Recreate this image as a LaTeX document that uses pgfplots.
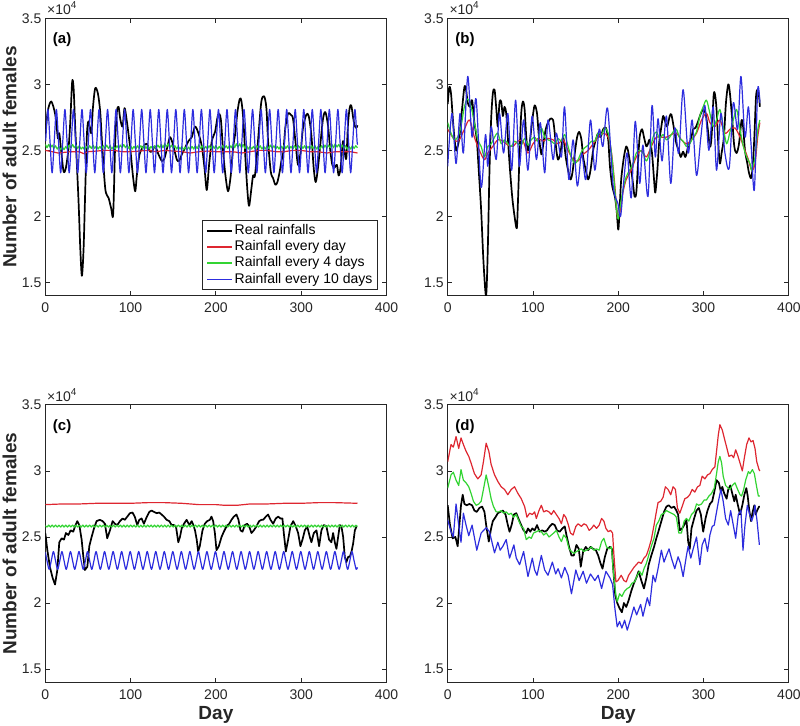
\documentclass[border=0pt]{standalone}
\usepackage{pgfplots}
\pgfplotsset{compat=1.18}
\usepackage{fontspec}
\setmainfont{Liberation Sans}
\definecolor{axgray}{RGB}{38,38,38}
\definecolor{mred}{RGB}{222,38,48}
\definecolor{mgreen}{RGB}{50,212,50}
\definecolor{mblue}{RGB}{45,45,222}
\tikzset{
  serblk/.style={draw=black, line width=0.85pt},
  serred/.style={draw=mred, line width=0.6pt},
  sergrn/.style={draw=mgreen, line width=0.6pt},
  serblu/.style={draw=mblue, line width=0.6pt},
}
\pgfplotsset{
  panel/.style={
    width=170.6pt, height=138.7pt, scale only axis, anchor=south west,
    xmin=0, xmax=400, ymin=1.4, ymax=3.5,
    xtick={0,100,200,300,400}, ytick={1.5,2,2.5,3,3.5},
    tick align=inside, major tick length=2.2pt,
    axis line style={axgray, line width=0.4pt},
    tick style={axgray, line width=0.4pt},
    tick label style={font=\fontsize{7}{8}\selectfont, text=axgray},
    yticklabel style={inner xsep=1.8pt},
    /pgf/number format/assume math mode=true,
    every axis plot/.append style={line join=round},
  },
}
\newcommand{\plab}[1]{\node[anchor=west, inner sep=0, font=\bfseries\fontsize{7.5}{9}\selectfont, text=black] at (axis cs:8.5,3.335) {#1};}
\begin{document}
\begin{tikzpicture}
\path[use as bounding box] (0,0) rectangle (400pt,363pt);

% ---------------- (a)
\begin{axis}[panel, at={(22.65pt,215.15pt)},
  cycle list={{black,line width=0.85pt},{mred,line width=0.6pt},{mgreen,line width=0.6pt},{mblue,line width=0.6pt}},
  legend image code/.code={\draw[#1, line width=0.9pt] (0pt,0pt) -- (12.5pt,0pt);},
  legend style={at={(1,0)}, anchor=south east, xshift=-4.35pt, yshift=2.85pt, draw=axgray, line width=0.4pt,
    font=\fontsize{7}{8}\selectfont, inner xsep=1.7pt, inner ysep=1pt, row sep=0pt,
    nodes={inner sep=0.8pt, text height=5.1pt, text depth=1.4pt}, cells={anchor=west}}]
\addplot+[smooth, no markers] coordinates {(0,2.62)(3,2.80)(7,2.87)(11.7,2.77)(14.8,2.59)(16.4,2.63)(18.7,2.49)(21.5,2.34)(24.2,2.37)(27.3,2.52)(29.3,2.72)(31.5,3.02)(33.2,2.97)(35.1,2.67)(39,2.11)(41,1.76)(42.9,1.55)(44.9,1.76)(46.8,2.19)(48.8,2.62)(50.7,2.72)(53.9,2.63)(55.8,2.82)(58.5,2.97)(61.7,2.93)(64.4,2.79)(66.4,2.57)(70.3,2.21)(74.2,2.14)(77.3,2.06)(79.6,2.02)(82,2.57)(83.9,2.79)(85.9,2.83)(87.8,2.74)(90.6,2.68)(92.9,2.82)(95.6,2.72)(99.5,2.52)(102.7,2.31)(105.4,2.19)(107.3,2.31)(110.5,2.47)(115.1,2.53)(119,2.55)(123,2.49)(125.7,2.50)(128.8,2.53)(132.7,2.47)(136.6,2.42)(139.7,2.44)(143.6,2.54)(146.4,2.60)(150.3,2.53)(154.2,2.43)(156.9,2.42)(160,2.47)(163.9,2.52)(167.8,2.57)(171.7,2.60)(175.6,2.68)(179.5,2.63)(183.5,2.53)(186.6,2.37)(189.3,2.20)(192,2.39)(195.2,2.57)(199,2.64)(202.6,2.77)(205.7,2.74)(208.5,2.49)(211.2,2.31)(214.3,2.19)(217.4,2.31)(220.2,2.52)(222.9,2.64)(225.2,2.79)(228,2.89)(230,2.87)(232.3,2.72)(234.6,2.44)(237,2.19)(238.9,2.08)(241.6,2.21)(243.6,2.31)(245.5,2.30)(247.5,2.42)(250.2,2.64)(253.3,2.87)(256.5,2.91)(259.2,2.82)(261.2,2.57)(264.3,2.34)(267,2.29)(269.7,2.24)(272.1,2.26)(274.8,2.34)(276.8,2.42)(279.1,2.49)(281.4,2.67)(284.6,2.78)(287.7,2.77)(290.4,2.74)(293.2,2.57)(296.3,2.39)(299.4,2.49)(302.1,2.67)(306,2.77)(308.8,2.76)(311.9,2.62)(314.6,2.37)(317,2.26)(319.7,2.37)(322.8,2.57)(325.6,2.74)(328.3,2.79)(331.4,2.69)(334.1,2.50)(336.5,2.39)(339.2,2.37)(341.9,2.39)(343.9,2.31)(346.2,2.37)(349,2.57)(350.9,2.49)(352.9,2.44)(354.8,2.69)(356.8,2.82)(358.7,2.84)(361.1,2.74)(362.6,2.69)(364.6,2.67)(366,2.69)};
\addlegendentry{Real rainfalls}
\addplot+[no markers] coordinates {(0,2.50)(8,2.49)(15,2.48)(22,2.485)(30,2.49)(40,2.49)(45,2.475)(50,2.49)(60,2.495)(70,2.50)(80,2.50)(90,2.49)(100,2.49)(110,2.495)(120,2.50)(130,2.49)(140,2.50)(150,2.495)(160,2.49)(170,2.48)(180,2.49)(190,2.495)(200,2.49)(210,2.49)(220,2.49)(230,2.48)(240,2.49)(250,2.50)(260,2.50)(270,2.49)(280,2.49)(290,2.50)(300,2.50)(310,2.49)(320,2.49)(330,2.48)(340,2.49)(350,2.49)(358,2.49)(366,2.48)};
\addlegendentry{Rainfall every day}
\addplot+[no markers] coordinates {(0,2.545)(2,2.52)(4,2.545)(6,2.52)(8,2.54)(10,2.515)(12,2.535)(14,2.51)(16,2.53)(18,2.505)(20,2.525)(22,2.505)(24,2.53)(26,2.51)(28,2.54)(30,2.52)(32,2.545)(34,2.52)(36,2.54)(38,2.515)(40,2.535)(42,2.51)(44,2.525)(46,2.505)(48,2.53)(50,2.51)(52,2.535)(54,2.515)(56,2.54)(58,2.515)(60,2.535)(62,2.51)(64,2.53)(66,2.51)(68,2.535)(70,2.515)(72,2.54)(74,2.515)(76,2.535)(78,2.51)(80,2.53)(82,2.51)(84,2.535)(86,2.515)(88,2.54)(90,2.52)(92,2.545)(94,2.52)(96,2.54)(98,2.515)(100,2.535)(102,2.51)(104,2.53)(106,2.51)(108,2.535)(110,2.515)(112,2.535)(114,2.515)(116,2.54)(118,2.515)(120,2.535)(122,2.51)(124,2.53)(126,2.51)(128,2.535)(130,2.515)(132,2.54)(134,2.52)(136,2.545)(138,2.52)(140,2.55)(142,2.525)(144,2.55)(146,2.52)(148,2.54)(150,2.515)(152,2.535)(154,2.51)(156,2.53)(158,2.51)(160,2.53)(162,2.505)(164,2.525)(166,2.505)(168,2.525)(170,2.505)(172,2.53)(174,2.51)(176,2.535)(178,2.515)(180,2.54)(182,2.515)(184,2.535)(186,2.51)(188,2.53)(190,2.51)(192,2.535)(194,2.515)(196,2.54)(198,2.515)(200,2.535)(202,2.51)(204,2.53)(206,2.51)(208,2.535)(210,2.515)(212,2.535)(214,2.515)(216,2.54)(218,2.52)(220,2.545)(222,2.52)(224,2.55)(226,2.525)(228,2.55)(230,2.52)(232,2.545)(234,2.515)(236,2.535)(238,2.51)(240,2.53)(242,2.51)(244,2.53)(246,2.51)(248,2.535)(250,2.515)(252,2.535)(254,2.51)(256,2.53)(258,2.51)(260,2.535)(262,2.515)(264,2.54)(266,2.515)(268,2.535)(270,2.51)(272,2.53)(274,2.51)(276,2.535)(278,2.515)(280,2.54)(282,2.515)(284,2.535)(286,2.51)(288,2.53)(290,2.51)(292,2.535)(294,2.515)(296,2.54)(298,2.52)(300,2.54)(302,2.515)(304,2.535)(306,2.51)(308,2.53)(310,2.51)(312,2.535)(314,2.515)(316,2.535)(318,2.51)(320,2.53)(322,2.51)(324,2.535)(326,2.515)(328,2.54)(330,2.515)(332,2.54)(334,2.52)(336,2.545)(338,2.52)(340,2.55)(342,2.525)(344,2.545)(346,2.52)(348,2.54)(350,2.515)(352,2.535)(354,2.51)(356,2.53)(358,2.51)(360,2.535)(362,2.515)(364,2.535)(366,2.52)};
\addlegendentry{Rainfall every 4 days}
\addplot+[smooth, no markers] coordinates {(0.5,2.57)(3,2.81)(5.5,2.57)(8,2.33)(10.5,2.57)(13,2.81)(15.5,2.57)(18,2.33)(20.5,2.57)(23,2.81)(25.5,2.57)(28,2.33)(30.5,2.57)(33,2.81)(35.5,2.57)(38,2.33)(40.5,2.57)(43,2.81)(45.5,2.57)(48,2.33)(50.5,2.57)(53,2.81)(55.5,2.57)(58,2.33)(60.5,2.57)(63,2.81)(65.5,2.57)(68,2.33)(70.5,2.57)(73,2.81)(75.5,2.57)(78,2.33)(80.5,2.57)(83,2.81)(85.5,2.57)(88,2.33)(90.5,2.57)(93,2.81)(95.5,2.57)(98,2.33)(100.5,2.57)(103,2.81)(105.5,2.57)(108,2.33)(110.5,2.57)(113,2.81)(115.5,2.57)(118,2.33)(120.5,2.57)(123,2.81)(125.5,2.57)(128,2.33)(130.5,2.57)(133,2.81)(135.5,2.57)(138,2.33)(140.5,2.57)(143,2.81)(145.5,2.57)(148,2.33)(150.5,2.57)(153,2.81)(155.5,2.57)(158,2.33)(160.5,2.57)(163,2.81)(165.5,2.57)(168,2.33)(170.5,2.57)(173,2.81)(175.5,2.57)(178,2.33)(180.5,2.57)(183,2.81)(185.5,2.57)(188,2.33)(190.5,2.57)(193,2.81)(195.5,2.57)(198,2.33)(200.5,2.57)(203,2.81)(205.5,2.57)(208,2.33)(210.5,2.57)(213,2.81)(215.5,2.57)(218,2.33)(220.5,2.57)(223,2.81)(225.5,2.57)(228,2.33)(230.5,2.57)(233,2.81)(235.5,2.57)(238,2.33)(240.5,2.57)(243,2.81)(245.5,2.57)(248,2.33)(250.5,2.57)(253,2.81)(255.5,2.57)(258,2.33)(260.5,2.57)(263,2.81)(265.5,2.57)(268,2.33)(270.5,2.57)(273,2.81)(275.5,2.57)(278,2.33)(280.5,2.57)(283,2.81)(285.5,2.57)(288,2.33)(290.5,2.57)(293,2.81)(295.5,2.57)(298,2.33)(300.5,2.57)(303,2.81)(305.5,2.57)(308,2.33)(310.5,2.57)(313,2.81)(315.5,2.57)(318,2.33)(320.5,2.57)(323,2.81)(325.5,2.57)(328,2.33)(330.5,2.57)(333,2.81)(335.5,2.57)(338,2.33)(340.5,2.57)(343,2.81)(345.5,2.57)(348,2.33)(350.5,2.57)(353,2.81)(355.5,2.57)(358,2.33)(360.5,2.57)(363,2.81)(365.5,2.57)(366,2.55)};
\addlegendentry{Rainfall every 10 days}
\plab{(a)}
\end{axis}

% ---------------- (b)
\begin{axis}[panel, at={(223.85pt,215.15pt)}]
\addplot[serblk, smooth] coordinates {(0,2.85)(1.9,2.98)(3.9,2.93)(5.8,2.76)(7.8,2.60)(9.8,2.50)(11.7,2.53)(13.7,2.60)(16.8,2.81)(19.6,2.98)(21.5,2.96)(23.5,2.86)(26.2,2.83)(28.6,2.88)(31.3,2.71)(34.1,2.58)(36.4,2.35)(39.2,2.05)(42,1.65)(45,1.40)(47,1.75)(49,2.35)(50.9,2.73)(52.9,2.93)(54.9,2.96)(56.8,2.83)(58.8,2.68)(60.7,2.86)(62.7,2.87)(64.7,2.76)(66.6,2.83)(68.6,2.78)(70.5,2.60)(72.5,2.40)(75.6,2.15)(78.4,2.00)(81,1.91)(82.3,2.10)(84.3,2.48)(86.2,2.78)(88.2,2.87)(90.2,2.81)(92.1,2.60)(94.1,2.50)(96,2.55)(99.2,2.73)(101.9,2.84)(104.7,2.78)(107,2.60)(109.8,2.47)(111.7,2.53)(114.9,2.66)(117.6,2.71)(120.4,2.74)(123.5,2.73)(125.5,2.63)(127.4,2.50)(129.4,2.43)(132.1,2.48)(135.3,2.60)(138.4,2.45)(141.1,2.35)(143.9,2.28)(146.2,2.33)(149,2.48)(151.7,2.60)(154.1,2.64)(156.8,2.58)(158.8,2.45)(161.9,2.35)(164.7,2.28)(167.4,2.35)(170.5,2.50)(173.7,2.58)(176.4,2.63)(179.2,2.60)(182.3,2.66)(185.5,2.67)(188.2,2.58)(190.2,2.38)(192.9,2.23)(196,2.15)(198,2.05)(200,1.90)(201.5,2.05)(203.4,2.28)(206.6,2.45)(209.3,2.53)(211.3,2.50)(213.2,2.43)(215.2,2.35)(217.2,2.25)(219.1,2.15)(221.1,2.18)(223.1,2.40)(225,2.60)(227.8,2.66)(230.1,2.60)(232.9,2.53)(234.8,2.55)(236.8,2.58)(239.5,2.48)(241.9,2.28)(243.4,2.18)(245.8,2.35)(247.8,2.55)(250.5,2.68)(252.5,2.76)(254.4,2.73)(257.2,2.68)(260.3,2.76)(262.3,2.77)(265.4,2.66)(268.1,2.55)(270.9,2.50)(273.2,2.45)(276,2.49)(278.7,2.45)(281.9,2.53)(285,2.58)(287.8,2.66)(290.5,2.67)(293.6,2.72)(296.8,2.78)(299.5,2.81)(302.3,2.78)(304.6,2.68)(307.4,2.53)(309.3,2.60)(311.7,2.91)(313.2,2.93)(315.2,2.81)(317.2,2.55)(319.1,2.40)(321.1,2.48)(323.8,2.60)(326.2,2.86)(328.9,3.00)(330.9,2.93)(333.6,2.73)(336,2.53)(338.7,2.48)(341.5,2.55)(344.6,2.73)(346.6,2.66)(348.5,2.50)(351.3,2.40)(353.2,2.33)(355.6,2.29)(357.6,2.38)(359.5,2.60)(361.5,2.91)(363.4,2.96)(365,2.91)(366,2.83)};
\addplot[serred, smooth] coordinates {(0,2.66)(5.8,2.60)(9.8,2.57)(13.7,2.58)(19.6,2.66)(25.5,2.73)(31.3,2.60)(37.2,2.50)(43.1,2.43)(47,2.48)(52.9,2.53)(58.8,2.58)(64.7,2.57)(70.5,2.54)(76.4,2.53)(82.3,2.57)(88.2,2.57)(94.1,2.48)(100,2.55)(105.8,2.59)(111.7,2.57)(117.6,2.59)(123.5,2.58)(129.4,2.55)(135.3,2.58)(141.1,2.50)(147,2.43)(152.9,2.42)(158.8,2.47)(164.7,2.50)(170.5,2.55)(176.4,2.60)(182.3,2.63)(188.2,2.60)(192.1,2.48)(196,2.23)(198.8,2.0)(201.5,2.025)(205.4,2.18)(209.3,2.28)(215.2,2.35)(221.1,2.45)(227,2.50)(232.9,2.45)(238.7,2.53)(244.6,2.60)(250.5,2.60)(256.4,2.60)(262.3,2.62)(268.1,2.63)(274,2.58)(279.9,2.55)(285.8,2.58)(291.7,2.63)(297.6,2.73)(303.4,2.78)(307.4,2.71)(313.2,2.68)(319.1,2.73)(325,2.63)(330.9,2.66)(336.8,2.67)(342.7,2.60)(348.5,2.50)(352.5,2.43)(356.4,2.35)(360.3,2.40)(363.4,2.60)(366,2.71)};
\addplot[sergrn, smooth] coordinates {(0,2.71)(3.9,2.63)(7.8,2.58)(11.7,2.60)(15.6,2.68)(19.6,2.83)(23.5,2.89)(27.4,2.83)(31.3,2.71)(35.3,2.58)(39.2,2.53)(43.1,2.45)(47,2.53)(51,2.55)(54.9,2.60)(58.8,2.63)(62.7,2.55)(66.6,2.58)(70.5,2.55)(74.5,2.53)(78.4,2.57)(82.3,2.55)(86.2,2.54)(90.2,2.59)(94.1,2.54)(98,2.58)(102,2.60)(105.8,2.57)(109.8,2.67)(113.7,2.60)(117.6,2.58)(121.5,2.57)(125.5,2.55)(129.4,2.59)(133.3,2.57)(137.2,2.62)(141.1,2.53)(145,2.45)(149,2.40)(152.9,2.43)(156.8,2.49)(160.7,2.52)(164.7,2.54)(168.6,2.57)(172.5,2.57)(176.4,2.63)(180.4,2.62)(184.3,2.67)(188.2,2.63)(191,2.53)(194,2.35)(198,2.05)(200,1.98)(201.5,2.05)(205.4,2.20)(209.3,2.30)(213.2,2.35)(217.2,2.40)(221.1,2.48)(225,2.50)(229,2.48)(232.8,2.42)(236.7,2.48)(240.7,2.60)(244.6,2.64)(248.5,2.59)(252.5,2.62)(256.4,2.58)(260.3,2.60)(264.2,2.64)(268.1,2.66)(272.1,2.59)(276,2.57)(279.9,2.53)(283.8,2.55)(287.8,2.60)(291.7,2.64)(295.6,2.76)(299.5,2.83)(303.4,2.88)(307.4,2.78)(311.3,2.68)(315.2,2.73)(319.1,2.81)(323,2.68)(327,2.55)(330.9,2.64)(334.8,2.73)(338.7,2.81)(342.7,2.66)(346.6,2.53)(350.5,2.45)(354.4,2.40)(356.4,2.35)(360.3,2.45)(363.4,2.65)(366,2.73)};
\addplot[serblu, smooth] coordinates {(0,2.38)(5,2.78)(9.8,2.40)(14.5,2.78)(18.4,2.48)(23.5,3.06)(28.6,2.60)(33.3,2.89)(39.2,2.22)(44.3,2.62)(47,2.38)(51,2.68)(56.8,2.43)(60.7,2.78)(65.5,2.48)(70.5,2.78)(75,2.35)(79.6,2.88)(84,2.38)(89,2.73)(94,2.35)(99,2.76)(104,2.43)(108.6,2.71)(113.7,2.33)(117.6,2.73)(123.5,2.43)(127.4,2.63)(133.3,2.45)(137,2.83)(142,2.28)(147,2.58)(152,2.23)(157,2.48)(162,2.28)(167.4,2.73)(172.5,2.35)(177.6,2.66)(182,2.53)(187.4,2.82)(194,2.23)(199.5,2.10)(202.7,2.0)(206.6,2.28)(210.5,2.48)(215.2,2.14)(219.9,2.72)(225,2.25)(228.9,2.54)(234.8,2.15)(239.5,2.84)(243.4,2.45)(246.6,2.74)(251.3,2.42)(256.4,2.76)(261.5,2.25)(266.2,2.67)(270.9,2.48)(276,2.96)(281.9,2.48)(286.6,2.73)(291.7,2.31)(296.8,2.60)(301.5,2.84)(306.2,2.50)(311.3,2.83)(315.2,2.35)(320.3,2.78)(325,2.48)(330.1,2.37)(334.8,2.86)(339.9,2.66)(343.8,3.06)(348.5,2.60)(352.5,2.83)(355.6,2.55)(359.5,2.20)(363.4,2.96)(366,2.86)};
\plab{(b)}
\end{axis}

% ---------------- (c)
\begin{axis}[panel, at={(22.65pt,21.85pt)}]
\addplot[serblk] coordinates {(0,2.53)(2.4,2.40)(5.5,2.27)(8.6,2.19)(11.4,2.14)(14.1,2.25)(16.4,2.46)(19.2,2.49)(21.9,2.48)(24.2,2.53)(27,2.515)(29.7,2.55)(32.8,2.54)(34.8,2.58)(37.5,2.62)(39.9,2.59)(42.6,2.48)(44.6,2.35)(46.5,2.25)(49.3,2.275)(51.6,2.43)(54.3,2.50)(57.1,2.565)(60.1,2.62)(64,2.63)(67.2,2.62)(69.9,2.60)(72.6,2.49)(75.8,2.55)(78.9,2.62)(81.6,2.60)(84.4,2.59)(87.5,2.62)(90.6,2.64)(93.3,2.63)(96.1,2.654)(99.2,2.68)(102.3,2.685)(105.1,2.65)(107.8,2.59)(110.2,2.63)(112.9,2.64)(115.6,2.60)(118.8,2.65)(121.9,2.69)(124.6,2.70)(127.4,2.69)(130.5,2.68)(133.6,2.685)(136.4,2.67)(139.1,2.654)(142.2,2.63)(145.4,2.62)(148.1,2.59)(150.8,2.59)(153.2,2.58)(155.9,2.46)(157.9,2.50)(159.9,2.565)(162.6,2.60)(165.7,2.63)(168.9,2.59)(171.6,2.62)(173.6,2.59)(175.5,2.55)(177.5,2.48)(179.2,2.39)(181.1,2.43)(184.3,2.55)(187,2.60)(189.8,2.62)(192.9,2.63)(194.8,2.654)(196.8,2.62)(198.8,2.53)(200.7,2.40)(203.4,2.43)(206.6,2.50)(209.3,2.54)(212.4,2.58)(215.6,2.60)(218.3,2.63)(221,2.654)(224.1,2.67)(226.5,2.63)(228.8,2.55)(231.2,2.54)(233.9,2.59)(236.6,2.60)(239,2.58)(241.7,2.53)(244.4,2.55)(247.5,2.58)(250.7,2.62)(253.4,2.63)(255.4,2.63)(258.5,2.654)(261.2,2.67)(264,2.63)(267.1,2.60)(270.2,2.64)(273,2.654)(275.7,2.64)(278,2.64)(279.6,2.53)(282,2.39)(284.7,2.48)(287.4,2.58)(290.6,2.62)(293.7,2.58)(296.4,2.53)(299.1,2.43)(301.5,2.48)(304.2,2.55)(307,2.58)(310.1,2.50)(312,2.46)(314.8,2.53)(317.9,2.55)(321,2.43)(323.7,2.55)(326.5,2.59)(329.6,2.58)(332.7,2.48)(335.4,2.46)(337.4,2.53)(339.4,2.46)(341.3,2.41)(343.3,2.50)(345.3,2.59)(347.2,2.58)(349.2,2.50)(351.1,2.35)(353.1,2.31)(355.1,2.35)(357,2.35)(359,2.39)(360.9,2.45)(362.9,2.55)(364.9,2.58)};
\addplot[serred] coordinates {(0,2.745)(20,2.75)(40,2.75)(60,2.755)(80,2.755)(100,2.755)(120,2.76)(140,2.76)(160,2.755)(180,2.745)(200,2.745)(210,2.74)(225,2.74)(240,2.75)(260,2.75)(280,2.755)(300,2.755)(320,2.76)(340,2.76)(366,2.755)};
\addplot[sergrn] coordinates {(0,2.585)(2,2.575)(4,2.59)(6,2.575)(8,2.59)(10,2.575)(12,2.59)(14,2.576)(16,2.589)(18,2.575)(20,2.59)(22,2.575)(24,2.59)(26,2.575)(28,2.59)(30,2.576)(32,2.59)(34,2.575)(36,2.59)(38,2.575)(40,2.589)(42,2.575)(44,2.59)(46,2.575)(48,2.59)(50,2.576)(52,2.59)(54,2.575)(56,2.59)(58,2.575)(60,2.59)(62,2.575)(64,2.59)(66,2.576)(68,2.59)(70,2.575)(72,2.59)(74,2.575)(76,2.589)(78,2.575)(80,2.59)(82,2.575)(84,2.59)(86,2.576)(88,2.59)(90,2.575)(92,2.59)(94,2.575)(96,2.59)(98,2.575)(100,2.59)(102,2.576)(104,2.59)(106,2.575)(108,2.59)(110,2.575)(112,2.589)(114,2.575)(116,2.59)(118,2.575)(120,2.59)(122,2.576)(124,2.59)(126,2.575)(128,2.59)(130,2.575)(132,2.59)(134,2.575)(136,2.59)(138,2.576)(140,2.59)(142,2.575)(144,2.59)(146,2.575)(148,2.589)(150,2.575)(152,2.59)(154,2.575)(156,2.59)(158,2.576)(160,2.59)(162,2.575)(164,2.59)(166,2.575)(168,2.59)(170,2.575)(172,2.59)(174,2.576)(176,2.59)(178,2.575)(180,2.59)(182,2.575)(184,2.589)(186,2.575)(188,2.59)(190,2.575)(192,2.59)(194,2.576)(196,2.59)(198,2.575)(200,2.59)(202,2.575)(204,2.59)(206,2.575)(208,2.59)(210,2.576)(212,2.59)(214,2.575)(216,2.59)(218,2.575)(220,2.589)(222,2.575)(224,2.59)(226,2.575)(228,2.59)(230,2.576)(232,2.59)(234,2.575)(236,2.59)(238,2.575)(240,2.59)(242,2.575)(244,2.59)(246,2.576)(248,2.59)(250,2.575)(252,2.59)(254,2.575)(256,2.589)(258,2.575)(260,2.59)(262,2.575)(264,2.59)(266,2.576)(268,2.59)(270,2.575)(272,2.59)(274,2.575)(276,2.59)(278,2.575)(280,2.59)(282,2.576)(284,2.59)(286,2.575)(288,2.59)(290,2.575)(292,2.589)(294,2.575)(296,2.59)(298,2.575)(300,2.59)(302,2.576)(304,2.59)(306,2.575)(308,2.59)(310,2.575)(312,2.59)(314,2.575)(316,2.59)(318,2.576)(320,2.59)(322,2.575)(324,2.59)(326,2.575)(328,2.589)(330,2.575)(332,2.59)(334,2.575)(336,2.59)(338,2.576)(340,2.59)(342,2.575)(344,2.59)(346,2.575)(348,2.59)(350,2.575)(352,2.59)(354,2.576)(356,2.59)(358,2.575)(360,2.59)(362,2.575)(364,2.589)(366,2.58)};
\addplot[serblu, smooth] coordinates {(0,2.385)(2,2.32)(4.5,2.255)(7,2.32)(9.5,2.39)(12,2.32)(14.5,2.255)(17,2.32)(19.5,2.39)(22,2.32)(24.5,2.255)(27,2.32)(29.5,2.39)(32,2.32)(34.5,2.255)(37,2.32)(39.5,2.39)(42,2.32)(44.5,2.255)(47,2.32)(49.5,2.39)(52,2.32)(54.5,2.255)(57,2.32)(59.5,2.39)(62,2.32)(64.5,2.255)(67,2.32)(69.5,2.39)(72,2.32)(74.5,2.255)(77,2.32)(79.5,2.39)(82,2.32)(84.5,2.255)(87,2.32)(89.5,2.39)(92,2.32)(94.5,2.255)(97,2.32)(99.5,2.39)(102,2.32)(104.5,2.255)(107,2.32)(109.5,2.39)(112,2.32)(114.5,2.255)(117,2.32)(119.5,2.39)(122,2.32)(124.5,2.255)(127,2.32)(129.5,2.39)(132,2.32)(134.5,2.255)(137,2.32)(139.5,2.39)(142,2.32)(144.5,2.255)(147,2.32)(149.5,2.39)(152,2.32)(154.5,2.255)(157,2.32)(159.5,2.39)(162,2.32)(164.5,2.255)(167,2.32)(169.5,2.39)(172,2.32)(174.5,2.255)(177,2.32)(179.5,2.39)(182,2.32)(184.5,2.255)(187,2.32)(189.5,2.39)(192,2.32)(194.5,2.255)(197,2.32)(199.5,2.39)(202,2.32)(204.5,2.255)(207,2.32)(209.5,2.39)(212,2.32)(214.5,2.255)(217,2.32)(219.5,2.39)(222,2.32)(224.5,2.255)(227,2.32)(229.5,2.39)(232,2.32)(234.5,2.255)(237,2.32)(239.5,2.39)(242,2.32)(244.5,2.255)(247,2.32)(249.5,2.39)(252,2.32)(254.5,2.255)(257,2.32)(259.5,2.39)(262,2.32)(264.5,2.255)(267,2.32)(269.5,2.39)(272,2.32)(274.5,2.255)(277,2.32)(279.5,2.39)(282,2.32)(284.5,2.255)(287,2.32)(289.5,2.39)(292,2.32)(294.5,2.255)(297,2.32)(299.5,2.39)(302,2.32)(304.5,2.255)(307,2.32)(309.5,2.39)(312,2.32)(314.5,2.255)(317,2.32)(319.5,2.39)(322,2.32)(324.5,2.255)(327,2.32)(329.5,2.39)(332,2.32)(334.5,2.255)(337,2.32)(339.5,2.39)(342,2.32)(344.5,2.255)(347,2.32)(349.5,2.39)(352,2.32)(354.5,2.255)(357,2.32)(359.5,2.39)(362,2.32)(364.5,2.255)(366,2.27)};
\plab{(c)}
\end{axis}

% ---------------- (d)
\begin{axis}[panel, at={(223.85pt,21.85pt)}]
\addplot[serblk] coordinates {(0,2.74)(2.7,2.59)(5.8,2.49)(9,2.50)(11.7,2.43)(13.7,2.59)(15.6,2.74)(17.6,2.82)(19.6,2.75)(22.3,2.74)(25.5,2.75)(28.6,2.74)(31.3,2.70)(34.1,2.69)(37.2,2.72)(40.4,2.73)(43.1,2.69)(45.1,2.59)(48.2,2.465)(50.9,2.565)(52.9,2.62)(56,2.65)(58.8,2.68)(61.5,2.69)(64.7,2.70)(67.8,2.67)(70.5,2.59)(72.5,2.54)(74.9,2.59)(77.6,2.67)(80.4,2.68)(83.5,2.63)(86.2,2.59)(89,2.55)(92.1,2.53)(94.1,2.565)(96.8,2.54)(99.2,2.565)(101.9,2.55)(104.7,2.59)(107.8,2.54)(110.9,2.55)(113.7,2.54)(116.4,2.55)(119.6,2.58)(122.7,2.60)(125.5,2.59)(128.2,2.55)(131.3,2.54)(134.5,2.565)(137.2,2.58)(139.2,2.515)(142.3,2.425)(145.1,2.36)(147.8,2.36)(150.9,2.44)(153.7,2.41)(156,2.275)(158.8,2.39)(161.9,2.425)(164.7,2.40)(167.4,2.425)(170.5,2.41)(173.7,2.40)(176.4,2.36)(179.2,2.30)(181.5,2.26)(184.3,2.35)(187,2.41)(190.2,2.425)(192.5,2.41)(194.1,2.26)(196.4,2.06)(198.8,2.0)(201.5,1.96)(204.2,1.93)(206.6,2.0)(209.3,1.97)(212.1,2.02)(215.2,2.09)(218.3,2.15)(221.1,2.19)(223.8,2.24)(227,2.17)(230.1,2.11)(232.9,2.19)(235.6,2.29)(238.7,2.36)(241.9,2.425)(244.6,2.49)(247.4,2.55)(250.5,2.62)(253.6,2.69)(256.4,2.73)(259.1,2.74)(262.3,2.72)(265.4,2.73)(268.1,2.70)(270.1,2.67)(272.1,2.55)(274.8,2.565)(277.2,2.59)(279.9,2.63)(281.9,2.465)(283.8,2.41)(285.8,2.565)(288.9,2.64)(291.7,2.70)(294.4,2.72)(296.8,2.67)(299.5,2.54)(302.3,2.64)(304.6,2.70)(307.4,2.75)(310.1,2.77)(312.5,2.84)(315.2,2.93)(317.9,2.91)(320.3,2.84)(321.9,2.88)(324.2,2.83)(327,2.79)(328.9,2.86)(331.3,2.89)(333.6,2.83)(336,2.77)(337.6,2.82)(339.9,2.75)(342.7,2.67)(345.4,2.74)(347.8,2.82)(350.1,2.87)(351.7,2.81)(353.6,2.70)(355.6,2.62)(357.2,2.68)(359.5,2.74)(361.1,2.67)(362.7,2.70)(365,2.73)(366,2.73)};
\addplot[serred] coordinates {(0,3.07)(3.9,3.20)(6.6,3.18)(9.8,3.26)(12.9,3.17)(15.6,3.25)(18.4,3.20)(21.5,3.15)(24.7,3.11)(27.4,3.06)(31.3,2.98)(35.3,2.94)(39.2,2.97)(41.9,3.07)(45.1,3.21)(48.2,3.15)(50.9,3.05)(54.9,2.97)(58.8,2.92)(62.7,2.88)(66.6,2.86)(70.5,2.82)(74.5,2.86)(78.4,2.88)(82.3,2.83)(86.2,2.79)(90.2,2.73)(92.9,2.65)(96,2.68)(99.2,2.67)(101.9,2.69)(103.9,2.64)(107,2.70)(109.8,2.74)(112.5,2.69)(115.6,2.70)(118.8,2.69)(121.5,2.67)(124.3,2.70)(127.4,2.67)(130.5,2.64)(133.3,2.60)(136,2.67)(138.4,2.65)(141.1,2.60)(143.9,2.53)(147,2.515)(150.2,2.58)(152.9,2.60)(156.8,2.58)(159.6,2.60)(162.7,2.59)(165.8,2.55)(168.6,2.565)(171.3,2.59)(174.5,2.565)(177.6,2.59)(180.4,2.64)(183.1,2.62)(185.5,2.565)(188.2,2.54)(190.9,2.55)(193.3,2.53)(194.9,2.36)(197.2,2.16)(199.5,2.17)(203.4,2.21)(206.6,2.17)(209.3,2.16)(212.1,2.21)(215.2,2.24)(218.3,2.27)(221.1,2.29)(223.8,2.31)(227,2.30)(230.1,2.34)(232.9,2.36)(235.6,2.41)(238.7,2.48)(241.9,2.59)(244.6,2.69)(246.6,2.76)(249.7,2.77)(252.5,2.80)(255.2,2.88)(258.3,2.86)(261.5,2.82)(264.2,2.88)(267,2.86)(269.3,2.72)(272.1,2.68)(274.8,2.73)(278,2.79)(281.1,2.80)(283.8,2.82)(286.6,2.86)(289.7,2.84)(292.9,2.88)(295.6,2.89)(298.3,2.96)(301.5,2.94)(304.6,2.97)(307.4,2.98)(310.1,3.01)(313.2,3.03)(315.2,3.15)(317.2,3.27)(319.1,3.35)(321.9,3.31)(324.2,3.25)(327,3.18)(329.7,3.11)(332.9,3.12)(335.2,3.10)(337.6,3.16)(339.9,3.12)(342.7,3.06)(345.4,3.00)(347.8,3.10)(350.5,3.20)(353.2,3.25)(355.6,3.22)(358,3.23)(360.3,3.17)(362.3,3.07)(365,3.01)(366,3.00)};
\addplot[sergrn] coordinates {(0,2.87)(3.9,2.97)(6.6,2.99)(9.8,2.93)(12.9,2.89)(15.6,3.01)(18.4,2.93)(21.5,2.91)(24.7,2.88)(27.4,2.83)(30.2,2.77)(33.3,2.74)(36.4,2.75)(39.2,2.77)(41.9,2.86)(45.1,2.97)(48.2,2.88)(50.9,2.79)(53.7,2.73)(56.8,2.69)(60,2.69)(62.7,2.70)(65.5,2.68)(68.6,2.69)(71.7,2.67)(74.5,2.68)(77.2,2.65)(80.4,2.67)(83.5,2.62)(86.2,2.58)(89,2.565)(92.1,2.48)(95.3,2.50)(98,2.49)(100.7,2.53)(103.9,2.54)(107,2.55)(109.8,2.54)(112.5,2.515)(115.6,2.53)(118.8,2.50)(121.5,2.515)(124.3,2.53)(127.4,2.55)(130.5,2.50)(133.3,2.465)(136,2.515)(139.2,2.49)(142.3,2.41)(145.1,2.39)(147.8,2.375)(150.9,2.39)(154.1,2.40)(156.8,2.41)(159.6,2.39)(162.7,2.40)(165.8,2.41)(168.6,2.425)(171.3,2.40)(174.5,2.41)(177.6,2.40)(180.4,2.465)(183.1,2.49)(186.2,2.425)(189.4,2.41)(192.1,2.425)(194.1,2.24)(197.2,2.06)(198.8,2.01)(201.5,2.07)(204.2,2.05)(207.4,2.09)(210.5,2.11)(213.2,2.12)(216,2.15)(219.1,2.16)(222.3,2.21)(225,2.24)(227.8,2.21)(230.1,2.26)(232.9,2.30)(235.6,2.36)(238.7,2.43)(241.9,2.49)(244.6,2.59)(247.4,2.62)(250.5,2.67)(253.6,2.68)(256.4,2.70)(259.1,2.69)(262.3,2.68)(265.4,2.67)(268.1,2.65)(270.9,2.53)(274,2.53)(277.2,2.62)(279.9,2.64)(282.7,2.62)(285.8,2.67)(288.9,2.69)(291.7,2.75)(294.4,2.74)(297.6,2.75)(300.7,2.78)(303.4,2.78)(306.2,2.81)(309.3,2.83)(312.5,2.87)(315.2,2.98)(317.2,3.07)(319.1,3.11)(321.1,3.06)(323,2.96)(325.8,2.89)(328.9,2.87)(330.9,2.86)(333.6,2.89)(336.8,2.91)(339.9,2.86)(342.7,2.82)(344.6,2.81)(347,2.86)(349.3,2.93)(352.5,2.995)(354.4,2.98)(357.2,3.01)(359.5,2.98)(361.9,2.89)(364.2,2.81)(366,2.81)};
\addplot[serblu] coordinates {(0,2.63)(3.9,2.54)(6.6,2.50)(9.8,2.75)(12.9,2.59)(15.6,2.46)(18.4,2.68)(21.5,2.59)(24.7,2.51)(28.6,2.59)(34.1,2.40)(39.2,2.53)(45.1,2.57)(49,2.54)(54.9,2.38)(58.8,2.46)(61.5,2.40)(64.7,2.43)(68.6,2.48)(72.5,2.34)(77.6,2.44)(80.4,2.34)(84.3,2.29)(89,2.39)(94.1,2.20)(99.2,2.34)(101.9,2.25)(104.7,2.21)(109.8,2.36)(113.7,2.25)(117.6,2.21)(122.7,2.31)(126.6,2.22)(129.4,2.26)(133.3,2.19)(137.2,2.27)(141.1,2.21)(145.1,2.07)(150.2,2.25)(154.1,2.17)(158.8,2.24)(162.7,2.15)(167.4,2.22)(172.5,2.17)(176.4,2.21)(180.4,2.11)(185.5,2.24)(190.2,2.19)(193.3,2.14)(196,1.96)(198.7,1.82)(201.5,1.86)(204.2,1.81)(207.4,1.87)(210.5,1.795)(214.4,1.88)(218.3,1.97)(221.5,1.91)(226.2,1.99)(228.9,1.90)(234,2.04)(236.8,1.98)(240.7,2.21)(243.4,2.16)(246.6,2.26)(250.5,2.40)(253.6,2.31)(256.4,2.36)(259.5,2.41)(262.3,2.34)(266.2,2.26)(270.1,2.35)(272.9,2.30)(276,2.20)(279.9,2.36)(281.9,2.43)(285,2.34)(287.8,2.41)(291.7,2.50)(295.6,2.29)(298.3,2.44)(301.5,2.49)(304.6,2.39)(307.4,2.515)(310.1,2.58)(312.5,2.59)(315.2,2.69)(318,2.79)(320.3,2.86)(323,2.77)(325.8,2.64)(329,2.59)(331.7,2.70)(334.8,2.59)(337.6,2.49)(340.7,2.67)(343.8,2.70)(346.2,2.40)(348.5,2.59)(351.3,2.74)(354,2.67)(356.4,2.62)(358.7,2.67)(360.3,2.74)(362.7,2.62)(365.4,2.44)};
\plab{(d)}
\end{axis}

% ---------------- outer texts
\begin{scope}[every node/.style={inner sep=0, text=axgray}]
\node[anchor=base west, font=\fontsize{7}{8}\selectfont] at (23.35pt,355.5pt) {×10\textsuperscript{4}};
\node[anchor=base west, font=\fontsize{7}{8}\selectfont] at (224.55pt,355.5pt) {×10\textsuperscript{4}};
\node[anchor=base west, font=\fontsize{7}{8}\selectfont] at (23.35pt,162.2pt) {×10\textsuperscript{4}};
\node[anchor=base west, font=\fontsize{7}{8}\selectfont] at (224.55pt,162.2pt) {×10\textsuperscript{4}};
\node[rotate=90, anchor=south, font=\bfseries\fontsize{9.5}{11}\selectfont] at (8.5pt,284.5pt) {Number of adult females};
\node[rotate=90, anchor=south, font=\bfseries\fontsize{9.5}{11}\selectfont] at (8.5pt,91.2pt) {Number of adult females};
\node[anchor=base, font=\bfseries\fontsize{9.5}{11}\selectfont] at (107.95pt,3.35pt) {Day};
\node[anchor=base, font=\bfseries\fontsize{9.5}{11}\selectfont] at (309.15pt,3.35pt) {Day};
\end{scope}
\end{tikzpicture}
\end{document}
